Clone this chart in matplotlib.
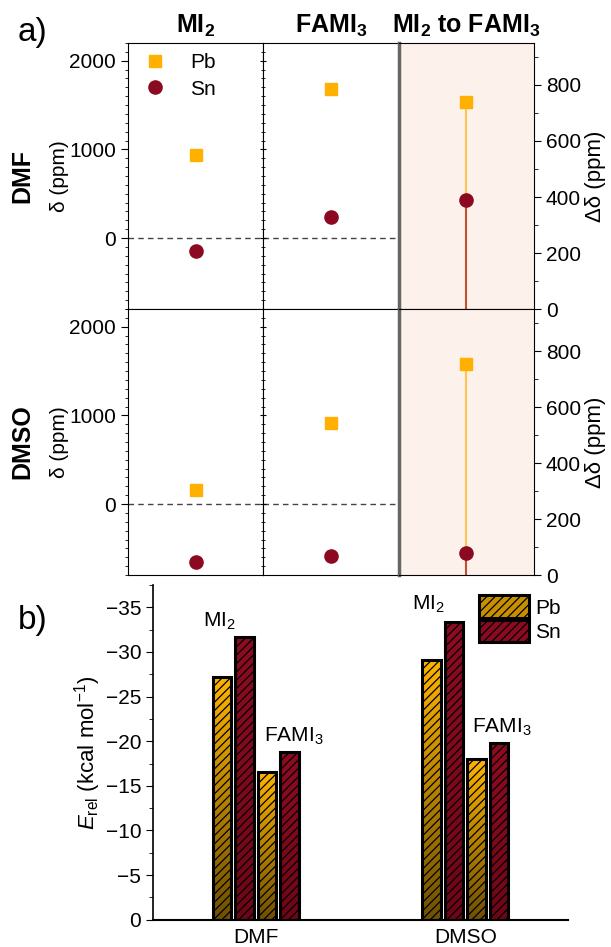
import numpy as np
import matplotlib.pyplot as plt
from matplotlib.ticker import MultipleLocator
from matplotlib.patches import Patch
from matplotlib.colors import LinearSegmentedColormap

plt.rcParams['font.family'] = ['Liberation Sans', 'DejaVu Sans']
plt.rcParams['mathtext.fontset'] = 'custom'
plt.rcParams['mathtext.rm'] = 'Liberation Sans'
plt.rcParams['mathtext.it'] = 'Liberation Sans:italic'
plt.rcParams['mathtext.bf'] = 'Liberation Sans:bold'
plt.rcParams['hatch.linewidth'] = 0.9

# ---- data ----
solvents = ['DMF', 'DMSO']
col_titles = ['MI$_\\mathbf{2}$', 'FAMI$_\\mathbf{3}$', 'MI$_\\mathbf{2}$ to FAMI$_\\mathbf{3}$']
metals = ['Pb', 'Sn']

# chemical shifts delta (ppm), one value per solvent
shift_mi2_pb = [938, 158]
shift_mi2_sn = [-147, -657]
shift_fami3_pb = [1676, 910]
shift_fami3_sn = [241, -583]
# shift change MI2 -> FAMI3 (ppm)
dshift_pb = [739, 754]
dshift_sn = [388, 78]

# relative energies (kcal/mol)
erel_mi2_pb = [-27.2, -29.1]
erel_mi2_sn = [-31.7, -33.4]
erel_fami3_pb = [-16.6, -18.0]
erel_fami3_sn = [-18.8, -19.8]

pb_col = '#ffb000'
sn_col = '#8b0a22'
stem_low = '#c0502e'
stem_high = '#ffc44d'

fig = plt.figure(figsize=(6.11, 9.47), dpi=100)

# ---- panel a ----
gs = fig.add_gridspec(2, 3, left=0.2095, right=0.874, top=0.9546, bottom=0.3928,
                      wspace=0, hspace=0)
for r in range(2):
    ax0 = fig.add_subplot(gs[r, 0])
    ax1 = fig.add_subplot(gs[r, 1], sharey=ax0)
    ax2 = fig.add_subplot(gs[r, 2])

    ax0.plot([0], [shift_mi2_pb[r]], 's', color=pb_col, ms=8, label='Pb')
    ax0.plot([0], [shift_mi2_sn[r]], 'o', color=sn_col, ms=9.5, label='Sn')
    ax1.plot([0], [shift_fami3_pb[r]], 's', color=pb_col, ms=8)
    ax1.plot([0], [shift_fami3_sn[r]], 'o', color=sn_col, ms=9.5)
    for ax in (ax0, ax1):
        ax.axhline(0, color='#444444', lw=1, dashes=(4, 3), zorder=0)
        ax.set_xlim(-1, 1)
        ax.set_xticks([])
    ax0.set_ylim(-800, 2200)
    ax0.yaxis.set_major_locator(MultipleLocator(1000))
    ax0.yaxis.set_minor_locator(MultipleLocator(100))
    ax0.tick_params(axis='y', which='both', direction='out', labelsize=15)
    ax0.tick_params(axis='y', which='major', length=5)
    ax0.tick_params(axis='y', which='minor', length=2.5)
    # ticks straddling the MI2 / FAMI3 divider
    ax1.tick_params(axis='y', which='both', left=True, labelleft=False, direction='inout')
    ax1.tick_params(axis='y', which='major', length=5)
    ax1.tick_params(axis='y', which='minor', length=3)
    ax0.set_ylabel('δ (ppm)', fontsize=15, labelpad=0)

    # delta panel
    ax2.set_facecolor('#fdf1ec')
    ax2.vlines(0, 0, dshift_sn[r], color=stem_low, lw=1.5, zorder=1)
    ax2.vlines(0, dshift_sn[r], dshift_pb[r], color=stem_high, lw=1.5, zorder=1)
    ax2.plot([0], [dshift_pb[r]], 's', color=pb_col, ms=8, zorder=3)
    ax2.plot([0], [dshift_sn[r]], 'o', color=sn_col, ms=9.5, zorder=3)
    ax2.set_xlim(-1, 1)
    ax2.set_xticks([])
    ax2.set_ylim(0, 950)
    ax2.yaxis.tick_right()
    ax2.yaxis.set_label_position('right')
    ax2.yaxis.set_major_locator(MultipleLocator(200))
    ax2.yaxis.set_minor_locator(MultipleLocator(100))
    ax2.tick_params(axis='y', which='both', direction='out', labelsize=15)
    ax2.tick_params(axis='y', which='major', length=5)
    ax2.tick_params(axis='y', which='minor', length=3)
    ax2.set_ylabel('Δδ (ppm)', fontsize=16, labelpad=3)
    ax2.spines['left'].set_color('#666666')
    ax2.spines['left'].set_linewidth(2.5)
    ax1.spines['right'].set_visible(False)

    if r == 0:
        for ax, t in zip((ax0, ax1, ax2), col_titles):
            ax.set_title(t, fontsize=18, fontweight='bold', pad=7)
        ax0.legend(loc='upper left', frameon=False, fontsize=15, handletextpad=0.9,
                   labelspacing=0.35, borderaxespad=0.3, borderpad=0.2,
                   handlelength=1.6)
    pos = ax0.get_position()
    fig.text(0.036, (pos.y0 + pos.y1) / 2, solvents[r], rotation=90, fontsize=18,
             fontweight='bold', ha='center', va='center')

fig.text(0.053, 0.966, 'a)', fontsize=24, ha='center', va='center')
fig.text(0.053, 0.345, 'b)', fontsize=24, ha='center', va='center')

# ---- panel b ----
axb = fig.add_axes([0.2504, 0.0288, 0.6792, 0.3535])
x = np.arange(len(solvents))
offsets = [-0.162, -0.054, 0.054, 0.162]
width = 0.088
series = [(erel_mi2_pb, 'Pb'), (erel_mi2_sn, 'Sn'), (erel_fami3_pb, 'Pb'), (erel_fami3_sn, 'Sn')]
cmaps = {
    'Pb': LinearSegmentedColormap.from_list('pb', ['#6e5000', '#ffb400']),
    'Sn': LinearSegmentedColormap.from_list('sn', ['#6e0618', '#8e0c22']),
}
grad = np.linspace(0, 1, 256).reshape(-1, 1)
for off, (vals, m) in zip(offsets, series):
    bars = axb.bar(x + off, vals, width=width, facecolor='none', edgecolor='black',
                   hatch='////', lw=2.2, zorder=3)
    for b in bars:
        x0 = b.get_x()
        h = b.get_height()
        im = axb.imshow(grad, cmap=cmaps[m], aspect='auto', origin='lower',
                        extent=[x0, x0 + b.get_width(), 0, h], zorder=2)
        im.set_clip_path(b)

axb.set_xlim(-0.49, 1.49)
axb.set_ylim(0, -37.5)
axb.yaxis.set_minor_locator(MultipleLocator(2.5))
axb.set_yticks([0, -5, -10, -15, -20, -25, -30, -35])
axb.set_yticklabels(['0', '−5', '−10', '−15', '−20', '−25', '−30', '−35'])
axb.tick_params(axis='y', which='both', direction='out', labelsize=15)
axb.tick_params(axis='y', which='major', length=5)
axb.tick_params(axis='y', which='minor', length=3)
axb.set_xticks(x)
axb.set_xticklabels(solvents, fontsize=15)
axb.tick_params(axis='x', length=0, pad=6)
axb.spines['top'].set_visible(False)
axb.spines['right'].set_visible(False)
axb.spines['left'].set_linewidth(1.2)
axb.spines['bottom'].set_linewidth(1.5)
axb.set_ylabel('$E_{\\mathrm{rel}}$ (kcal mol$^{-1}$)', fontsize=16, labelpad=2)

label_pos = [(-0.173, -33.4, 'MI$_2$'), (0.18, -20.5, 'FAMI$_3$'),
             (0.825, -35.3, 'MI$_2$'), (1.173, -21.6, 'FAMI$_3$')]
for lx, ly, lt in label_pos:
    axb.text(lx, ly, lt, fontsize=15, ha='center', va='center')

handles = [Patch(facecolor='#c89000', edgecolor='black', hatch='////', lw=2.2),
           Patch(facecolor=sn_col, edgecolor='black', hatch='////', lw=2.2)]
axb.legend(handles, metals, loc='upper left', bbox_to_anchor=(0.76, 1.0),
           frameon=False, fontsize=15, handlelength=2.4, handleheight=1.3,
           labelspacing=0.08, handletextpad=0.3, borderpad=0)

fig.savefig('out.png', dpi=100)
